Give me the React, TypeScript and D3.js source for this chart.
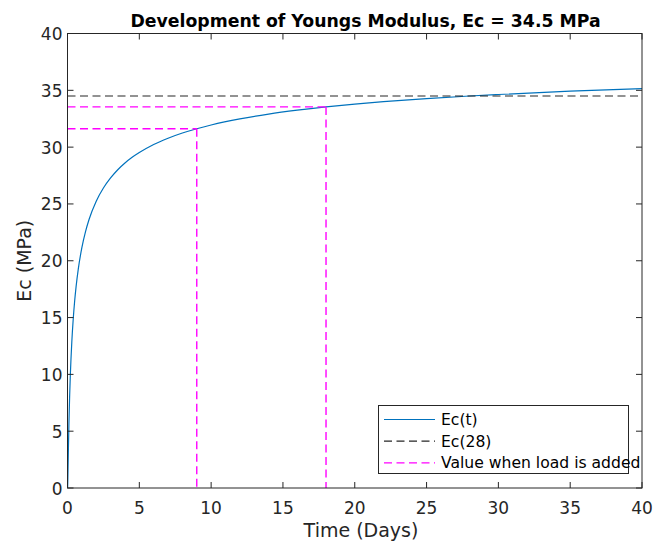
import React from "react";
import * as d3 from "d3";

const timeDays = [0, 0.01, 0.03, 0.06, 0.1, 0.15, 0.2, 0.3, 0.4, 0.5, 0.6, 0.75, 1, 1.25, 1.5, 2, 2.5, 3, 3.5, 4, 4.5, 5, 6, 7, 8, 9, 10, 12, 14, 16, 18, 20, 22, 25, 28, 30, 35, 40];
const ecValues = [0, 0.09, 1.19, 3.3, 5.74, 8.15, 10.04, 12.85, 14.9, 16.48, 17.75, 19.27, 21.15, 22.54, 23.63, 25.24, 26.4, 27.29, 28.01, 28.6, 29.1, 29.52, 30.23, 30.78, 31.24, 31.62, 31.95, 32.49, 32.91, 33.25, 33.54, 33.79, 34.0, 34.27, 34.5, 34.63, 34.92, 35.15];
const ec28 = 34.5;
const loadDays = [9, 18];
const loadValues = [31.62, 33.54];
const xTicks = [0, 5, 10, 15, 20, 25, 30, 35, 40];
const yTicks = [0, 5, 10, 15, 20, 25, 30, 35, 40];
const legendLabels = ["Ec(t)", "Ec(28)", "Value when load is added"];
const titleText = "Development of Youngs Modulus, Ec = 34.5 MPa";

const W = 656, H = 545;
const L = 67.5, R = 642, T = 33.5, B = 488;
const FONT = "DejaVu Sans, sans-serif";
const AX = "#262626";

export default function App() {
  const x = d3.scaleLinear().domain([0, 40]).range([L, R]);
  const y = d3.scaleLinear().domain([0, 40]).range([B, T]);
  const line = d3.line<number>().x((_, i) => x(timeDays[i])).y((d) => y(d)).curve(d3.curveMonotoneX);
  const ecPath = line(ecValues) || "";
  const tickLen = 6;
  const dash = "8,4.5";
  const legendColors = ["#0072BD", "#262626", "#FF00FF"];
  const legendDash = [undefined, dash, dash];

  return (
    <svg width={W} height={H} style={{ position: "absolute", left: 0, top: 0, background: "#fff" }}>
      <rect x={0} y={0} width={W} height={H} fill="#fff" />
      <clipPath id="plotclip">
        <rect x={L} y={T} width={R - L} height={B - T} />
      </clipPath>
      <g clipPath="url(#plotclip)">
        <path d={ecPath} fill="none" stroke="#0072BD" strokeWidth={1.2} />
        <line x1={x(0)} x2={x(40)} y1={y(ec28)} y2={y(ec28)} stroke="#262626" strokeWidth={1.2} strokeDasharray={dash} />
        {loadDays.map((d, i) => (
          <g key={i}>
            <line x1={x(0)} x2={x(d)} y1={y(loadValues[i])} y2={y(loadValues[i])} stroke="#FF00FF" strokeWidth={1.4} strokeDasharray={dash} />
            <line x1={x(d)} x2={x(d)} y1={y(loadValues[i])} y2={y(0)} stroke="#FF00FF" strokeWidth={1.4} strokeDasharray={dash} />
          </g>
        ))}
      </g>
      <rect x={L} y={T} width={R - L} height={B - T} fill="none" stroke={AX} strokeWidth={1} />
      {xTicks.map((t) => (
        <g key={"x" + t}>
          <line x1={x(t)} x2={x(t)} y1={B} y2={B - tickLen} stroke={AX} />
          <line x1={x(t)} x2={x(t)} y1={T} y2={T + tickLen} stroke={AX} />
          <text x={x(t)} y={B + 26} textAnchor="middle" fontFamily={FONT} fontSize={17} fill={AX}>{t}</text>
        </g>
      ))}
      {yTicks.map((t) => (
        <g key={"y" + t}>
          <line x1={L} x2={L + tickLen} y1={y(t)} y2={y(t)} stroke={AX} />
          <line x1={R} x2={R - tickLen} y1={y(t)} y2={y(t)} stroke={AX} />
          <text x={L - 5} y={y(t) + 6.5} textAnchor="end" fontFamily={FONT} fontSize={17} fill={AX}>{t}</text>
        </g>
      ))}
      <text x={365.5} y={27} textAnchor="middle" fontFamily={FONT} fontSize={17.3} fontWeight="bold" fill="#000">{titleText}</text>
      <text x={361} y={537} textAnchor="middle" fontFamily={FONT} fontSize={19} fill={AX}>Time (Days)</text>
      <text transform={`translate(31, ${(T + B) / 2}) rotate(-90)`} textAnchor="middle" fontFamily={FONT} fontSize={19} fill={AX}>Ec (MPa)</text>
      <rect x={378.5} y={405.5} width={250} height={68} fill="#fff" stroke={AX} strokeWidth={1} />
      {legendLabels.map((lab, i) => {
        const ly = 419.5 + i * 21.7;
        return (
          <g key={lab}>
            <line x1={384} x2={435} y1={ly} y2={ly} stroke={legendColors[i]} strokeWidth={1.2} strokeDasharray={legendDash[i]} />
            <text x={441} y={ly + 5.5} fontFamily={FONT} fontSize={15.6} fill="#000">{lab}</text>
          </g>
        );
      })}
    </svg>
  );
}
